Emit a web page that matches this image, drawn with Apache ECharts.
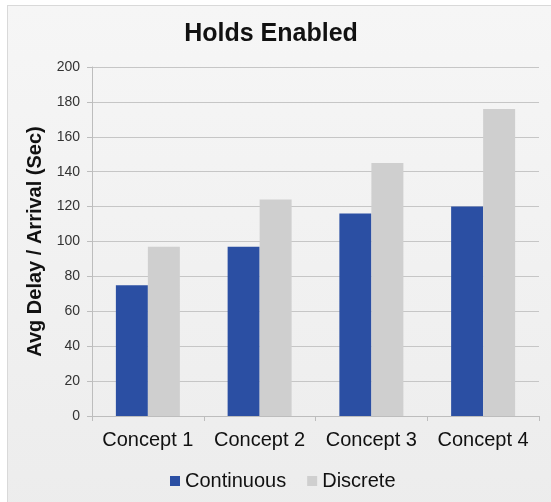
<!DOCTYPE html>
<html>
<head>
<meta charset="utf-8">
<script src="https://cdn.jsdelivr.net/npm/echarts@6/dist/echarts.min.js"></script>
<style>
  html, body { margin: 0; padding: 0; background: #ffffff; }
  #wrap { position: relative; width: 551px; height: 502px; overflow: hidden; }
  #frame {
    position: absolute; left: 7px; top: 5px; width: 560px; height: 520px;
    border: 1px solid #d9d9d9;
    background: linear-gradient(#f6f6f6, #ececec);
  }
  #chart { position: absolute; left: 0; top: 0; width: 551px; height: 502px; }
</style>
</head>
<body>
<div id="wrap">
  <div id="frame"></div>
  <div id="chart"></div>
</div>
<script>
// Average delay per arrival, by concept, with holds enabled
const categories = ['Concept 1', 'Concept 2', 'Concept 3', 'Concept 4'];
const continuous = [75, 97, 116, 120];
const discrete = [97, 124, 145, 176];
const yTicks = { min: 0, max: 200, step: 20 };

const FONT = '"Liberation Sans", Arial, Helvetica, sans-serif';

const chart = echarts.init(document.getElementById('chart'), null, { renderer: 'canvas' });
chart.setOption({
  backgroundColor: 'transparent',
  animation: false,
  textStyle: { fontFamily: FONT },
  title: {
    text: 'Holds Enabled',
    left: 266,
    top: 17,
    textAlign: 'center',
    textStyle: { fontFamily: FONT, fontSize: 25, fontWeight: 'bold', color: '#111' }
  },
  legend: {
    data: ['Continuous', 'Discrete'],
    left: 165,
    top: 466,
    icon: 'rect',
    itemWidth: 10,
    itemHeight: 10,
    itemGap: 21,
    textStyle: { fontFamily: FONT, fontSize: 20, color: '#111' }
  },
  grid: { left: 92, right: 12, top: 67, bottom: 86, containLabel: false },
  xAxis: {
    type: 'category',
    data: categories,
    axisLine: { show: true, lineStyle: { color: '#bdbdbd' } },
    axisTick: { show: true, length: 5, lineStyle: { color: '#bdbdbd' } },
    axisLabel: { fontFamily: FONT, fontSize: 20, color: '#111', margin: 14, interval: 0, hideOverlap: false },
    splitLine: { show: false }
  },
  yAxis: {
    type: 'value',
    min: yTicks.min,
    max: yTicks.max,
    interval: yTicks.step,
    name: 'Avg Delay / Arrival (Sec)',
    nameLocation: 'middle',
    nameGap: 44,
    nameTextStyle: { fontFamily: FONT, fontSize: 20, fontWeight: 'bold', color: '#111' },
    axisLine: { show: true, lineStyle: { color: '#bdbdbd' } },
    axisTick: { show: true, length: 5, lineStyle: { color: '#bdbdbd' } },
    axisLabel: { fontFamily: FONT, fontSize: 14, color: '#333', margin: 12 },
    splitLine: { show: true, lineStyle: { color: '#c6c6c6', width: 1 } }
  },
  series: [
    {
      name: 'Continuous',
      type: 'bar',
      data: continuous,
      barWidth: 32,
      barGap: '0%',
      itemStyle: { color: '#2b4fa3' }
    },
    {
      name: 'Discrete',
      type: 'bar',
      data: discrete,
      barWidth: 32,
      barGap: '0%',
      itemStyle: { color: '#cfcfcf' }
    }
  ]
});
</script>
</body>
</html>
